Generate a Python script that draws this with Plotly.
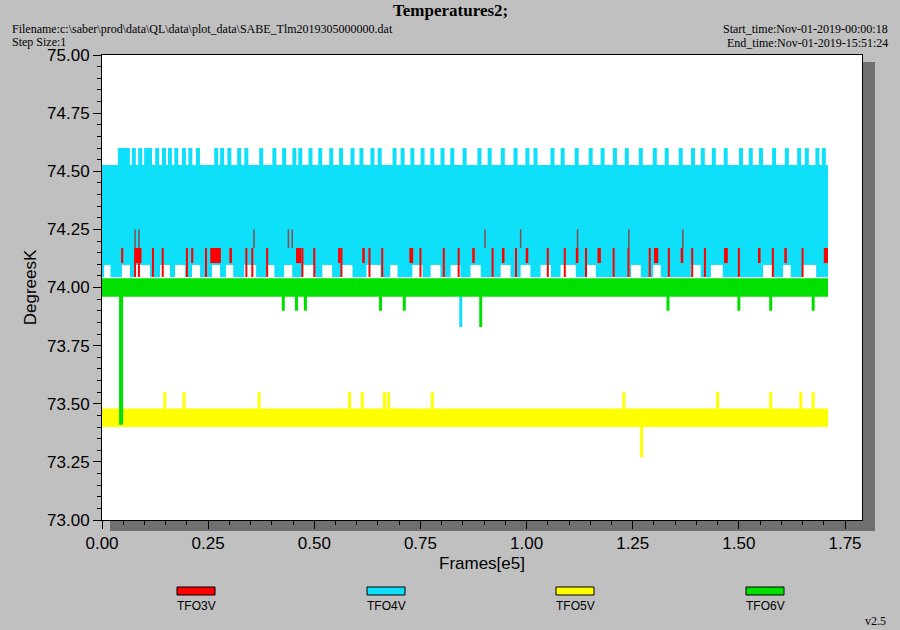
import plotly.graph_objects as go

# frame range of the record (e5 frames)
x_start, x_end = 0.0, 1.71

# solid bands each channel sits in [low, high] (DegreesK)
tfo4_band = [74.045, 74.527]
tfo3_block = [74.105, 74.17]
tfo6_band = [73.96, 74.04]
tfo5_band = [73.40, 73.48]

# TFO4V: white gaps in the low part of its band (start, end in e5)
tfo4_gaps = [(0.005, 0.02), (0.047, 0.066), (0.078, 0.113), (0.137, 0.160), (0.172, 0.196),
             (0.212, 0.231), (0.259, 0.278), (0.292, 0.309), (0.335, 0.363), (0.389, 0.406),
             (0.429, 0.448), (0.472, 0.500), (0.519, 0.542), (0.564, 0.590), (0.623, 0.656),
             (0.679, 0.696), (0.731, 0.755), (0.774, 0.797), (0.821, 0.844), (0.868, 0.892),
             (0.939, 0.962), (0.986, 1.009), (1.033, 1.057), (1.080, 1.116), (1.139, 1.163),
             (1.246, 1.269), (1.298, 1.316), (1.387, 1.410), (1.434, 1.462), (1.557, 1.580),
             (1.604, 1.622), (1.651, 1.682)]
# TFO4V spikes up to 74.60
tfo4_up = [0.042, 0.045, 0.052, 0.061, 0.075, 0.090, 0.104, 0.113, 0.130, 0.146, 0.160, 0.175,
           0.193, 0.208, 0.226, 0.269, 0.283, 0.300, 0.323, 0.340, 0.375, 0.406, 0.429, 0.453,
           0.467, 0.491, 0.514, 0.540, 0.563, 0.590, 0.611, 0.637, 0.654, 0.689, 0.708, 0.731,
           0.755, 0.778, 0.802, 0.825, 0.854, 0.889, 0.913, 0.944, 0.974, 1.002, 1.021, 1.061,
           1.085, 1.118, 1.151, 1.179, 1.208, 1.236, 1.269, 1.302, 1.330, 1.363, 1.392, 1.415,
           1.441, 1.469, 1.505, 1.528, 1.552, 1.583, 1.613, 1.642, 1.660, 1.685, 1.700]
tfo4_up_top = 74.60
tfo4_down = [(0.845, 73.83)]

# TFO3V: blocks at the bottom of the band and taller spikes
tfo3_blocks = [(0.045, 0.050), (0.080, 0.093), (0.255, 0.280), (0.210, 0.215), (0.300, 0.306),
               (0.457, 0.469), (0.556, 0.562), (0.613, 0.619), (0.724, 0.733), (0.872, 0.878),
               (0.942, 0.948), (0.998, 1.004), (1.116, 1.122), (1.167, 1.175), (1.300, 1.310),
               (1.363, 1.369), (1.465, 1.474), (1.545, 1.551), (1.607, 1.613), (1.700, 1.710)]
tfo3_spikes = [0.078, 0.087, 0.120, 0.143, 0.200, 0.245, 0.340, 0.354, 0.389, 0.472, 0.500,
               0.564, 0.630, 0.660, 0.750, 0.805, 0.840, 0.920, 0.975, 1.050, 1.090, 1.140,
               1.205, 1.240, 1.290, 1.335, 1.390, 1.420, 1.500, 1.580, 1.650]
tfo3_tall = [0.078, 0.087, 0.358, 0.439, 0.448, 0.902, 0.986, 1.120, 1.241, 1.368]
tfo3_tall_top = 74.25

# TFO6V spikes down
tfo6_down = [(0.045, 73.41), (0.427, 73.90), (0.458, 73.90), (0.479, 73.90), (0.656, 73.90),
             (0.712, 73.90), (0.892, 73.83), (1.333, 73.90), (1.500, 73.90), (1.575, 73.90),
             (1.675, 73.90)]

# TFO5V spikes up to 73.55, one down
tfo5_up = [0.148, 0.193, 0.370, 0.583, 0.613, 0.665, 0.675, 0.778, 1.229, 1.450, 1.575, 1.646,
           1.675]
tfo5_up_top = 73.55
tfo5_down = [(1.271, 73.27)]

red, cyan, yellow, green = "#ff0000", "#0ee0fa", "#ffff00", "#00e000"

# plot area in window pixels (used to place the frame texts)
PX0, PX1, PY0, PY1 = 102, 862, 55, 520


def px_x(px):
    return (px - PX0) / (PX1 - PX0)


def px_y(py):
    return (PY1 - py) / (PY1 - PY0)


def band(x0, x1, lo, hi, color, name):
    return go.Scatter(x=[x0, x1, x1, x0, x0], y=[lo, lo, hi, hi, lo], fill="toself",
                      fillcolor=color, line=dict(width=0), mode="lines",
                      hoverinfo="skip", showlegend=False, name=name)


def spikes(xs, lo, hi, color, width):
    xx, yy = [], []
    for x in xs:
        xx += [x, x, None]
        yy += [lo, hi, None]
    return go.Scatter(x=xx, y=yy, mode="lines", line=dict(color=color, width=width),
                      hoverinfo="skip", showlegend=False)


def drops(pairs, top, color, width):
    xx, yy = [], []
    for x, y in pairs:
        xx += [x, x, None]
        yy += [top, y, None]
    return go.Scatter(x=xx, y=yy, mode="lines", line=dict(color=color, width=width),
                      hoverinfo="skip", showlegend=False)


fig = go.Figure()
fig.add_trace(spikes(tfo4_up, tfo4_band[1] - 0.01, tfo4_up_top, cyan, 4))
fig.add_trace(band(x_start, x_end, tfo4_band[0], tfo4_band[1], cyan, "TFO4V"))
for a, b in tfo4_gaps:
    fig.add_trace(band(a, b, tfo4_band[0], 74.097, "white", "gap"))
for a, b in tfo3_blocks:
    fig.add_trace(band(a, b, tfo3_block[0], tfo3_block[1], red, "TFO3V"))
fig.add_trace(spikes(tfo3_spikes, 74.045, 74.17, red, 2))
fig.add_trace(spikes(tfo3_tall, 74.17, tfo3_tall_top, "#8a4a4a", 1.5))
fig.add_trace(drops(tfo4_down, 74.0, cyan, 3))
fig.add_trace(band(x_start, x_end, tfo6_band[0], tfo6_band[1], green, "TFO6V"))
fig.add_trace(drops(tfo6_down, 74.0, green, 3))
fig.add_trace(spikes(tfo5_up, 73.45, tfo5_up_top, yellow, 3))
fig.add_trace(band(x_start, x_end, tfo5_band[0], tfo5_band[1], yellow, "TFO5V"))
fig.add_trace(drops(tfo5_down, 73.45, yellow, 3))
# the long TFO6V drop sits over the yellow band
fig.add_trace(drops(tfo6_down[:1], 74.0, green, 4))

font = "Liberation Serif"
ann = [
    dict(text="<b>Temperatures2;</b>", x=px_x(450), y=px_y(11), xref="paper", yref="paper",
         showarrow=False, font=dict(family=font, size=17, color="black"),
         xanchor="center", yanchor="middle"),
]
ann_pix = [
    ("Filename:c:\\saber\\prod\\data\\QL\\data\\plot_data\\SABE_Tlm2019305000000.dat", 10, 29, "left"),
    ("Step Size:1", 10, 42, "left"),
    ("Start_time:Nov-01-2019-00:00:18", 890, 29, "right"),
    ("End_time:Nov-01-2019-15:51:24", 890, 43, "right"),
    ("v2.5", 888, 621, "right"),
]
for t, px, py, anc in ann_pix:
    ann.append(dict(text=t, x=px_x(px), y=px_y(py), xref="paper", yref="paper",
                    showarrow=False, font=dict(family=font, size=12, color="black"),
                    xanchor=anc, yanchor="middle"))

shapes = [
    # shadow of plot frame
    dict(type="rect", xref="paper", yref="paper", x0=px_x(863), x1=px_x(875),
         y0=px_y(531), y1=px_y(62), fillcolor="#707070", line=dict(width=0), layer="below"),
    dict(type="rect", xref="paper", yref="paper", x0=px_x(110), x1=px_x(875),
         y0=px_y(531), y1=px_y(521), fillcolor="#707070", line=dict(width=0), layer="below"),
]
legend_items = [("TFO3V", red, 196), ("TFO4V", cyan, 386), ("TFO5V", yellow, 575), ("TFO6V", green, 765)]
for name, col, cx in legend_items:
    shapes.append(dict(type="rect", xref="paper", yref="paper", x0=px_x(cx - 19), x1=px_x(cx + 19),
                       y0=px_y(595), y1=px_y(587), fillcolor=col, line=dict(color="black", width=1)))
    ann.append(dict(text=name, x=px_x(cx), y=px_y(606), xref="paper", yref="paper",
                    showarrow=False, font=dict(family="Liberation Sans", size=12, color="black"),
                    xanchor="center", yanchor="middle"))

axis_font = dict(family="Liberation Sans", size=17, color="black")
fig.update_layout(
    width=900, height=630,
    margin=dict(l=PX0, r=900 - PX1, t=PY0, b=630 - PY1),
    paper_bgcolor="#c0c0c0", plot_bgcolor="white",
    showlegend=False,
    annotations=ann, shapes=shapes,
    xaxis=dict(range=[0, 1.79], tickvals=[0, 0.25, 0.5, 0.75, 1.0, 1.25, 1.5, 1.75],
               ticktext=["0.00", "0.25", "0.50", "0.75", "1.00", "1.25", "1.50", "1.75"],
               ticks="outside", ticklen=8, tickcolor="black", showgrid=False, zeroline=False,
               showline=True, linecolor="black", mirror=True, tickfont=axis_font,
               title=dict(text="Frames[e5]", font=axis_font, standoff=4),
               minor=dict(dtick=0.05, ticks="outside", ticklen=4, tickcolor="black")),
    yaxis=dict(range=[73.0, 75.0], dtick=0.25, tickformat=".2f", ticks="outside", ticklen=8,
               tickcolor="black", showgrid=False, zeroline=False, showline=True,
               linecolor="black", mirror=True, tickfont=axis_font,
               title=dict(text="DegreesK", font=axis_font, standoff=6),
               minor=dict(dtick=0.05, ticks="outside", ticklen=4, tickcolor="black")),
)

fig.write_html("out.html", config={"responsive": False, "displayModeBar": False},
               post_script="document.body.style.margin='0';")
